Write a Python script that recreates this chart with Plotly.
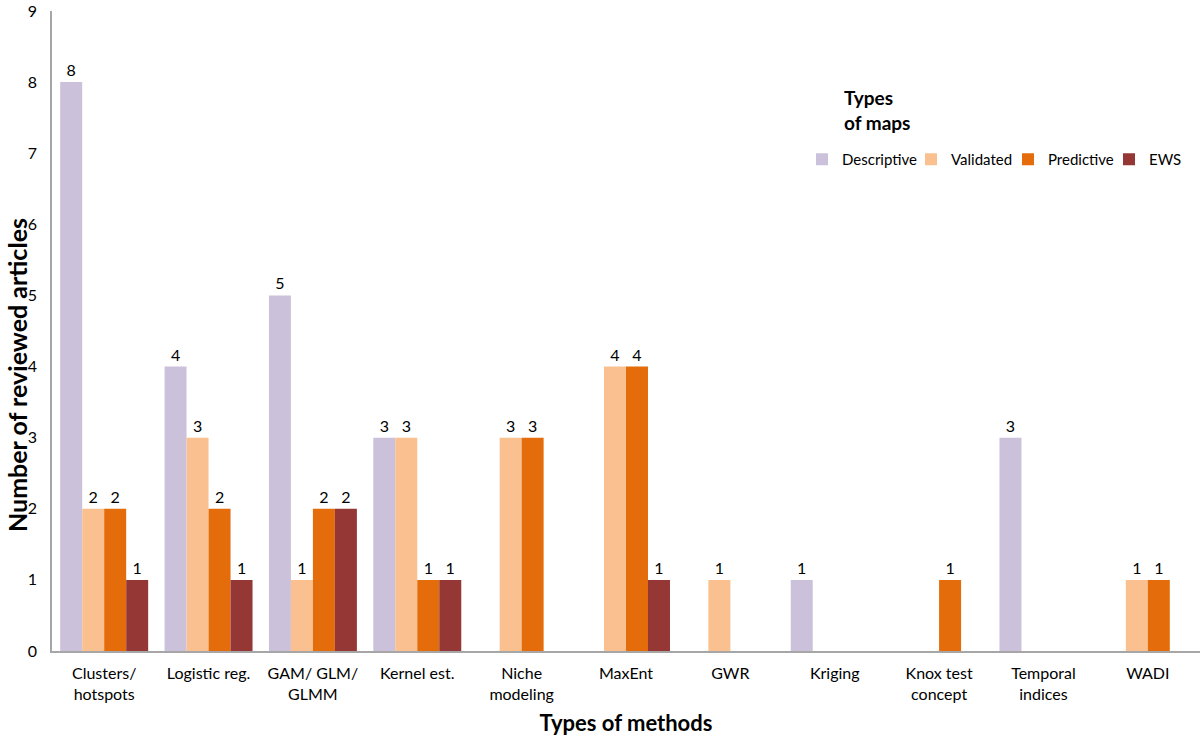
import plotly.graph_objects as go

categories = ["Clusters/<br>hotspots", "Logistic reg.", "GAM/ GLM/<br>GLMM", "Kernel est.",
              "Niche<br>modeling", "MaxEnt", "GWR", "Kriging", "Knox test<br>concept",
              "Temporal<br>indices", "WADI"]
descriptive = [8, 4, 5, 3, 0, 0, 0, 1, 0, 3, 0]
validated = [2, 3, 1, 3, 3, 4, 1, 0, 0, 0, 1]
predictive = [2, 2, 2, 1, 3, 4, 0, 0, 1, 0, 1]
ews = [1, 1, 2, 1, 0, 1, 0, 0, 0, 0, 0]

series = [("Descriptive", descriptive, "#CCC1DA", "legend", 842),
          ("Validated", validated, "#FAC090", "legend2", 951),
          ("Predictive", predictive, "#E46C0A", "legend3", 1048),
          ("EWS", ews, "#953735", "legend4", 1149)]

FONT = "Lato, 'Open Sans', sans-serif"

ML, MR, MT, MB = 52, 0, 11, 89
PW = 1200.0 - ML - MR
PH = 740.0 - MT - MB
BASE = 740.0 - MB


def px_x(p):
    return (p - ML) / PW


def px_y(p):
    return (BASE - p) / PH


fig = go.Figure()
legends = {}
for name, vals, col, lg, text_x in series:
    fig.add_trace(go.Bar(
        name=name, x=categories, y=vals, marker=dict(color=col, line=dict(width=0)),
        text=[str(v) if v else "" for v in vals], textposition="outside",
        textfont=dict(size=16, color="#000000", family=FONT), cliponaxis=False,
        legend=lg,
    ))
    legends[lg] = dict(
        orientation="h", x=px_x(text_x - 40), y=px_y(143), xanchor="left", yanchor="top",
        font=dict(size=15), bgcolor="rgba(0,0,0,0)", itemwidth=30,
    )

fig.update_layout(
    width=1200, height=740,
    margin=dict(l=ML, r=MR, t=MT, b=MB),
    paper_bgcolor="white", plot_bgcolor="white",
    barmode="group", bargap=0.157, bargroupgap=0,
    font=dict(family=FONT, size=16, color="#000000"),
    showlegend=True,
    xaxis=dict(
        showline=True, linecolor="#A6A6A6", linewidth=1.5, ticks="", showgrid=False,
        tickfont=dict(size=16), automargin=False, ticklabelstandoff=7,
        title=dict(text="<b>Types of methods</b>", font=dict(size=22), standoff=14),
    ),
    yaxis=dict(
        range=[0, 9], dtick=1, showline=True, linecolor="#A6A6A6", linewidth=1.5,
        ticks="", showgrid=False, zeroline=False, tickfont=dict(size=16),
        automargin=False, ticklabelstandoff=10, ticklabeloverflow="allow",
    ),
    annotations=[
        dict(text="<b>Number of reviewed articles</b>", textangle=-90,
             xref="paper", yref="paper", x=px_x(17), y=px_y(375),
             xanchor="center", yanchor="middle", showarrow=False, font=dict(size=25)),
        dict(text="<b>Types<br>of maps</b>", xref="paper", yref="paper",
             x=px_x(842), y=px_y(84), xanchor="left", yanchor="top",
             align="left", showarrow=False, font=dict(size=19)),
    ],
    **legends,
)

fig.write_html("out.html", config={"displayModeBar": False},
               post_script="document.body.style.margin='0';document.body.style.padding='0';")
